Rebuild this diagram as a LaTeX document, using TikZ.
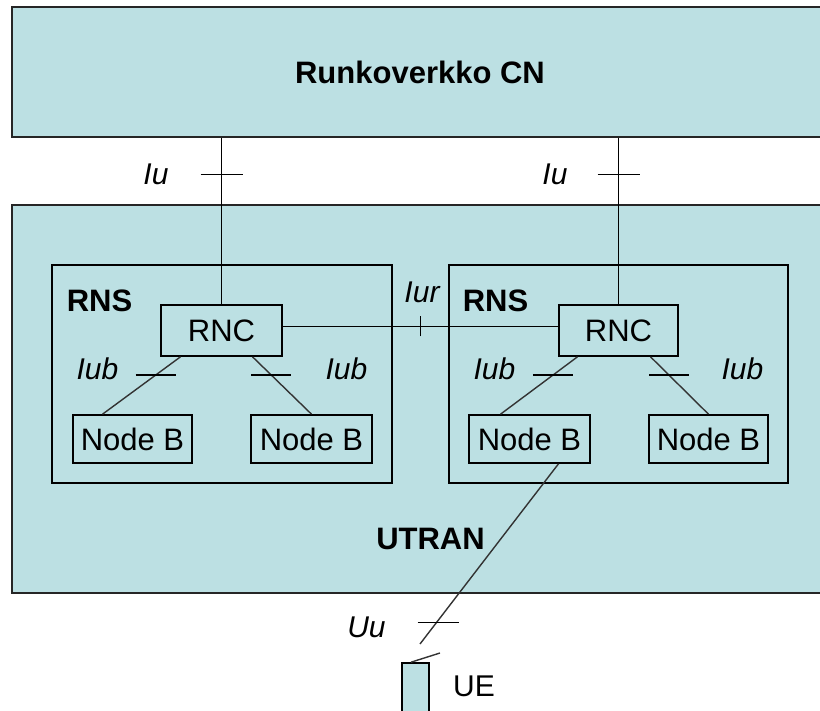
\documentclass[tikz,border=0pt]{standalone}
\usepackage{fontspec}
\setmainfont{Liberation Sans}
\definecolor{utranblue}{RGB}{188,224,227}
\tikzset{
    panel/.style={draw=black!85, line width=2pt, fill=utranblue, inner sep=0pt},
    subsys/.style={draw, line width=1.6pt, inner sep=0pt},
    unitbox/.style={draw, line width=1.6pt, inner sep=0pt, font=\fontsize{31}{36}\selectfont},
    heading/.style={inner sep=0pt, font=\fontsize{31}{36}\selectfont\bfseries},
    iflabel/.style={inner sep=0pt, font=\fontsize{30}{36}\selectfont\itshape},
    link/.style={line width=1.6pt},
    slant/.style={line width=1.4pt, black!80},
}
\begin{document}
\begin{tikzpicture}[x=1pt, y=-1pt]
    \useasboundingbox (0,0) rectangle (820,711);

    % Core network and access network panels
    \node[panel, heading, minimum width=816pt, minimum height=130pt] (cn) at (420,72) {Runkoverkko CN};
    \node[panel, minimum width=816pt, minimum height=388pt] (utran) at (420,399) {};
    \node[heading] (utranlabel) at (430.5,539) {UTRAN};

    % Radio network subsystems
    \node[subsys, minimum width=340pt, minimum height=218pt] (rnsA) at (222,374) {};
    \node[subsys, minimum width=339pt, minimum height=218pt] (rnsB) at (618.5,374) {};
    \node[heading] (rnsAlabel) at (99.5,301) {RNS};
    \node[heading] (rnsBlabel) at (495.5,301) {RNS};

    % Controllers and base stations
    \node[unitbox, minimum width=121pt, minimum height=51pt] (rncA) at (221.5,330.5) {RNC};
    \node[unitbox, minimum width=119pt, minimum height=51pt] (rncB) at (618.5,330.5) {RNC};
    \node[unitbox, minimum width=119pt, minimum height=48pt] (nbA1) at (132.5,439) {Node B};
    \node[unitbox, minimum width=121pt, minimum height=48pt] (nbA2) at (311.5,439) {Node B};
    \node[unitbox, minimum width=121pt, minimum height=48pt] (nbB1) at (529.5,439) {Node B};
    \node[unitbox, minimum width=119pt, minimum height=48pt] (nbB2) at (708.5,439) {Node B};

    % Iu links to the core network
    \draw[link] (cn.south -| rncA.north) -- coordinate[pos=0.22] (iuA) (rncA.north);
    \draw[link] (cn.south -| rncB.north) -- coordinate[pos=0.22] (iuB) (rncB.north);
    \draw[link] ([xshift=-21pt]iuA) -- ([xshift=21pt]iuA);
    \draw[link] ([xshift=-21pt]iuB) -- ([xshift=21pt]iuB);
    \node[iflabel] (iuAlabel) at (156,174) {Iu};
    \node[iflabel] (iuBlabel) at (555,174) {Iu};

    % Iur link between the controllers
    \draw[link] ([yshift=4pt]rncA.east) -- coordinate[pos=0.5] (iur) ([yshift=4pt]rncB.west);
    \draw[link] ([yshift=-10pt]iur) -- ([yshift=10pt]iur);
    \node[iflabel] (iurlabel) at (422,292) {Iur};

    % Iub links to the base stations
    \draw[slant] ([xshift=-41pt]rncA.south) -- coordinate[pos=0.32] (iubA1) ([xshift=-30pt]nbA1.north);
    \draw[slant] ([xshift=31pt]rncA.south) -- coordinate[pos=0.32] (iubA2) (nbA2.north);
    \draw[slant] ([xshift=-41pt]rncB.south) -- coordinate[pos=0.32] (iubB1) ([xshift=-29pt]nbB1.north);
    \draw[slant] ([xshift=32pt]rncB.south) -- coordinate[pos=0.32] (iubB2) (nbB2.north);
    \foreach \t in {iubA1,iubA2,iubB1,iubB2}
        \draw[link] ([xshift=-20pt]\t) -- ([xshift=20pt]\t);
    \node[iflabel] (iubA1label) at (97.5,369) {Iub};
    \node[iflabel] (iubA2label) at (346.5,369) {Iub};
    \node[iflabel] (iubB1label) at (494.5,369) {Iub};
    \node[iflabel] (iubB2label) at (742.5,369) {Iub};

    % Uu radio link to the terminal
    \coordinate (uuend) at (420,644);
    \draw[slant] ([xshift=29pt]nbB1.south) -- coordinate[pos=0.88] (uu) (uuend);
    \draw[link] ([xshift=-19pt]uu) -- ([xshift=22pt]uu);
    \node[iflabel] (uulabel) at (366.5,627) {Uu};

    % User equipment
    \node[panel, line width=1.6pt, draw=black, minimum width=27pt, minimum height=60pt] (ue) at (415.5,693) {};
    \coordinate (antenna) at (440,653);
    \draw[slant] ([xshift=-4.5pt]ue.north) -- (antenna);
    \node[inner sep=0pt, font=\fontsize{30}{36}\selectfont] (uelabel) at (474,686) {UE};
\end{tikzpicture}
\end{document}
